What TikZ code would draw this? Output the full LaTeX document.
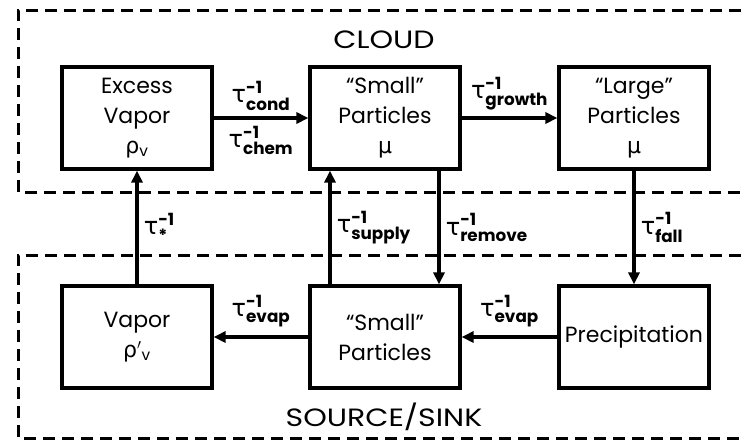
\documentclass[tikz,border=0pt]{standalone}
\usepackage{amsmath}
\usepackage{fontspec}
\setmainfont{Poppins}
\newfontfamily\grk{DejaVu Sans}
\newfontfamily\titlefont{Poppins}[FakeStretch=1.2]
\usetikzlibrary{arrows.meta}
\usetikzlibrary{positioning}
\newcommand\rate[1]{$\text{\grk τ}^{\textbf{-1}}_{\textbf{#1}}$}
\tikzset{
    state box/.style={
        draw,
        line width=3.2pt,
        minimum width=150pt,
        minimum height=102pt,
        inner sep=0pt,
        align=center,
        font=\fontsize{22}{30}\selectfont,
    },
    rate arrow/.style={
        line width=3.6pt,
        -{Triangle[length=12pt,width=11pt]},
    },
    rate label/.style={
        inner sep=1pt,
        font=\fontsize{24}{24}\selectfont,
    },
    region line/.style={
        line width=3pt,
        dash pattern=on 12pt off 7pt,
    },
    region title/.style={
        font=\titlefont\fontsize{25}{25}\selectfont,
    },
}
\begin{document}
\begin{tikzpicture}[x=1pt,y=-1pt]
    \useasboundingbox (0,0) rectangle (744,440);

    % the two regions, open on the right
    \draw[region line] (760,10) -- (18,10) -- (18,192) -- (760,192);
    \draw[region line] (760,255) -- (18,255) -- (18,438) -- (760,438);
    \node[region title] (cloud) at (384,40) {CLOUD};
    \node[region title] (sink) at (384,417) {SOURCE/SINK};

    \node[state box] (exvap) at (137,118) {Excess\\Vapor\\{\grk ρ}\textsubscript{v}};
    \node[state box] (smtop) at (385,118) {``Small''\\Particles\\{\grk μ}};
    \node[state box] (lgtop) at (634,118) {``Large''\\Particles\\{\grk μ}};
    \node[state box] (vap) at (137,337) {Vapor\\{\grk ρ}$'$\textsubscript{v}};
    \node[state box] (smbot) at (385,337) {``Small''\\Particles};
    \node[state box] (precip) at (634,337) {Precipitation};

    \draw[rate arrow] (exvap) -- node[rate label, above=5pt] {\rate{cond}}
        node[rate label, below=5pt] {\rate{chem}} (smtop);
    \draw[rate arrow] (smtop) -- node[rate label, above=5pt] {\rate{growth}} (lgtop);
    \draw[rate arrow] (smbot) -- node[rate label, above=7pt] {\rate{evap}} (vap);
    \draw[rate arrow] (precip) -- node[rate label, above=7pt] {\rate{evap}} (smbot);

    \draw[rate arrow] (vap) -- node[rate label, right=4pt] {\rate{*}} (exvap);
    \draw[rate arrow] ([xshift=-55pt]smbot.north) -- node[rate label, right=4pt] {\rate{supply}}
        ([xshift=-55pt]smtop.south);
    \draw[rate arrow] ([xshift=54pt]smtop.south) -- node[rate label, right=4pt] {\rate{remove}}
        ([xshift=54pt]smbot.north);
    \draw[rate arrow] (lgtop) -- node[rate label, right=4pt] {\rate{fall}} (precip);

\end{tikzpicture}
\end{document}
